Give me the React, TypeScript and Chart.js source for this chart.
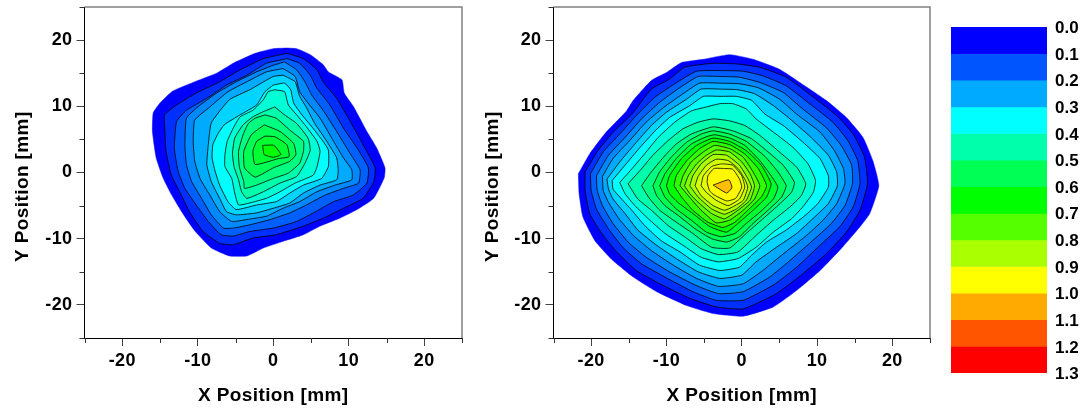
import React, { useEffect, useRef } from "react";
import { Chart, registerables } from "chart.js";

Chart.register(...registerables);

type Pt = [number, number];

const majorTicks = [-20, -10, 0, 10, 20];
const minorTicks = [-25, -15, -5, 5, 15, 25];
const scaleLevels = ["0.0", "0.1", "0.2", "0.3", "0.4", "0.5", "0.6", "0.7", "0.8", "0.9", "1.0", "1.1", "1.2", "1.3"];
const scaleColors = ["#0000ff", "#0055ff", "#00aaff", "#00ffff", "#00ffaa", "#00ff55", "#00ff00", "#55ff00", "#aaff00", "#ffff00", "#ffaa00", "#ff5500", "#ff0000"];
const bandWidths = [0.1, 0.1, 0.1, 0.1, 0.1, 0.1, 0.1, 0.1, 0.1, 0.1, 0.1, 0.1, 0.1];
const contourColors = [
  "#0000ff", "#0030ff", "#0060ff", "#0088ff", "#00aaff", "#00d4ff", "#00ffff", "#00ffd4", "#00ffaa", "#00ff80", "#00ff55",
  "#00ff30", "#00ff00", "#30ff00", "#55ff00", "#80ff00", "#aaff00", "#d4ff00", "#e6ff00", "#fff800", "#ffbe00",
];

const left00: Pt[] = [[1.8,18.8],[3.1,18.7],[4.9,17.8],[6.6,16.3],[7.3,15.2],[9.1,14],[9.4,12],[10.6,10],[12.4,6.2],[13.7,3.7],[14.8,0.7],[14.7,-0.8],[13.3,-3.9],[11.1,-5.6],[8.8,-6.9],[6.2,-8.1],[4,-9.4],[1.3,-10.4],[-1.3,-11.4],[-3.5,-12.6],[-5.8,-12.6],[-8.2,-11.4],[-10.4,-8.8],[-12.2,-5.8],[-13.5,-3.3],[-14.6,-0.8],[-15.5,2.2],[-16,6.2],[-15.9,9],[-15,10.5],[-13.3,12.3],[-10.2,13.8],[-7.5,15],[-5.3,16.5],[-2.4,18],[0,18.7]];
const left01: Pt[] = [[1.8,18],[4,17.2],[5.8,15.5],[6.6,13.7],[8.4,11.2],[10.2,7.7],[11.9,4.2],[13.5,0.7],[13.3,-1.4],[11.9,-3.9],[9.3,-5.4],[6.6,-6.9],[4,-8.1],[0.4,-9.4],[-2.7,-9.9],[-5.3,-10.9],[-7.1,-10.7],[-9.3,-8.9],[-11.1,-5.9],[-12.4,-2.9],[-13.5,-0.4],[-14.2,3.2],[-14.4,7.4],[-14.4,8.7],[-12.8,10.2],[-10.2,12],[-7.1,13.7],[-4.4,15.5],[-1.3,17.2]];
const left02: Pt[] = [[1.8,17.2],[3.5,16.5],[4.9,14.7],[5.8,12.7],[7.5,10.2],[9.3,6.7],[11.1,3.7],[12.6,0.7],[12.4,-1.6],[10.6,-3.4],[8,-4.4],[5.3,-6.1],[3.1,-7.4],[0,-8.4],[-3.1,-8.9],[-5.3,-9.6],[-6.9,-9.4],[-8.6,-7.4],[-10.2,-4.9],[-11.7,-2.4],[-12.6,0.2],[-13.1,3.7],[-12.8,7.7],[-11.5,9.4],[-8.8,11.2],[-6.2,13.2],[-3.5,14.7],[-0.9,16.5]];
const left03: Pt[] = [[1.5,16.7],[3.1,15.5],[4.2,13.7],[5.1,11.7],[6.6,9.4],[8.4,6.2],[10,3.2],[11.5,0.4],[11.3,-1.6],[9.3,-2.4],[6.9,-3.4],[4.4,-4.9],[2.2,-6.1],[-0.4,-7.1],[-3.1,-7.9],[-5.3,-8.4],[-6.6,-8.4],[-8.2,-6.4],[-9.5,-3.9],[-10.8,-1.4],[-11.5,1.2],[-11.7,4.2],[-11.5,8.2],[-10,9.9],[-7.5,12],[-4.9,13.7],[-2.2,15.2],[0,16.2]];
const left04: Pt[] = [[1.3,15.7],[2.9,14.5],[3.5,12.2],[4.6,10.5],[6.2,8.2],[8,4.7],[9.3,2.2],[10.4,0.4],[10.4,-1.1],[8.2,-1.9],[5.8,-2.9],[3.5,-4.4],[1.3,-5.4],[-0.9,-6.6],[-3.5,-7.1],[-5.5,-7.4],[-7.1,-5.9],[-8.4,-3.4],[-9.7,-0.9],[-10.4,1.7],[-10.6,4.7],[-10.4,7.9],[-8.4,9.9],[-6,12.2],[-3.5,13.7],[-0.9,15.2]];
const left05: Pt[] = [[1.3,14.7],[2.9,13.7],[3.5,11.5],[4.3,10],[5.5,7.4],[7.1,4.7],[8.4,2.2],[8.6,0.2],[8.4,-1.1],[6.2,-1.9],[4,-3.1],[2.2,-4.6],[0,-5.4],[-2.2,-6.1],[-4.9,-6.4],[-6.2,-5.9],[-7.1,-3.9],[-8.2,-1.4],[-8.8,1.2],[-8.6,4.2],[-8.2,7.5],[-5.8,11],[-3.1,12.5],[0,14.5]];
const left06: Pt[] = [[0,13.2],[1.5,13.5],[2.3,12.5],[2.7,10.5],[3.8,8.7],[4.9,7.2],[6.6,4.7],[7.3,3.4],[7.3,0.9],[6.4,-0.9],[4,-1.9],[2.2,-3.1],[0.4,-4.4],[-2.2,-4.9],[-4.9,-5.6],[-6,-4.4],[-7.1,-1.9],[-7.7,0.2],[-8.1,2.2],[-8,4.2],[-7.3,5.9],[-6.5,7.2],[-4.4,8.7],[-2.2,10.2],[-1.1,12.2]];
const left07: Pt[] = [[0.2,12.5],[1.5,12.2],[2,10.2],[3.1,8.7],[4.4,6.9],[5.8,4.7],[6.2,3.2],[5.8,0.9],[5.3,-0.4],[2.9,-1.6],[0.9,-2.9],[-0.9,-3.9],[-3.1,-4.6],[-4.6,-4.9],[-5.1,-3.1],[-5.5,-0.9],[-6.4,0.9],[-6.4,2.7],[-6.1,4.7],[-5.3,6.7],[-4.4,8.4],[-2.7,9.4],[-1.3,11],[-0.7,12.2]];
const left08: Pt[] = [[0.2,9.9],[1.5,8.7],[3.1,7.4],[4.6,5.2],[4.9,3.4],[4.2,1.4],[3.1,-0.6],[0.9,-1.6],[-1.3,-2.9],[-3.5,-3.9],[-4.2,-2.9],[-4.6,-1.1],[-5.2,0.9],[-5.4,2.9],[-5.1,5.2],[-4,7.2],[-2.7,8.4],[-1.3,9.2]];
const left09: Pt[] = [[-1.1,8.7],[0.4,8.2],[2.2,6.4],[4,4.7],[4,3.2],[3.5,1.4],[2,-0.1],[0,-0.9],[-2.2,-1.9],[-3.8,-2.4],[-3.9,-1.4],[-4.5,0.9],[-4.6,3.2],[-4,5.7],[-3.3,7.4],[-2.4,8.2]];
const left10: Pt[] = [[-1.2,7.2],[0.9,6.2],[2.7,4.4],[3,2.7],[2.2,1.7],[0,0.7],[-2.4,-0.7],[-3.8,0.7],[-3.9,3.2],[-2.9,5.7]];
const left11: Pt[] = [[-1.1,5.5],[0.2,5.4],[1.8,4.2],[2.1,2.4],[0.7,2.1],[-2.4,1.2],[-2.7,3.2],[-2.2,4.7]];
const left12: Pt[] = [[-1.4,4.1],[0.1,4.1],[1,2.7],[0,2.3],[-1.2,2.7]];

const right00: Pt[] = [[-21.7,-0.2],[-20.2,2.8],[-18,6.1],[-15.3,9.3],[-14.4,10.9],[-12,13.9],[-10,15.1],[-8,16.6],[-5.1,17.1],[-1.6,17.8],[1.5,17.1],[5,15.6],[7.7,13.6],[11.2,10.9],[13.9,8.3],[16.1,5.3],[17.4,1.8],[18.2,-2],[17,-6.2],[15.7,-8.2],[13.2,-11.5],[10.4,-14.8],[7.3,-17.8],[4.2,-20.3],[0.2,-21.7],[-3.8,-21.3],[-7.3,-20.1],[-11.3,-18],[-14.4,-15.8],[-17.1,-13.3],[-19.5,-10.3],[-21.1,-6.7],[-21.6,-3.2]];
const right01: Pt[] = [[-20.8,0.1],[-19.1,3.3],[-16.9,6.3],[-14.6,8.8],[-12,12.6],[-9.6,14.1],[-7.6,15.9],[-3.8,16.5],[-0.7,16.4],[2.4,15.9],[5.9,14.4],[9.5,11.4],[12.6,8.6],[14.8,5.8],[16.3,2.3],[16.7,-1.7],[15.7,-5.7],[13.9,-9],[11.2,-12.3],[8.1,-15.3],[4.6,-18.3],[0.2,-20.6],[-3.4,-20.3],[-6.9,-19],[-10.9,-16.8],[-14,-14.8],[-16.6,-12],[-18.6,-9.2],[-20.2,-6.2],[-20.8,-2.7]];
const right02: Pt[] = [[-20.1,-0.2],[-18.4,3.1],[-16.2,5.8],[-14,8.6],[-11.5,11.4],[-8.9,13.4],[-6,15.3],[-2.9,15.4],[0.2,15.3],[2.8,14.6],[5.9,13.1],[9,10.4],[12.1,7.6],[14.1,4.8],[15.4,1.8],[15.7,-1.7],[14.8,-5.2],[13,-8.2],[10.1,-11.3],[7.3,-14.3],[4.2,-17],[0.2,-19.3],[-3.4,-19.3],[-6.5,-18],[-10.2,-15.8],[-13.3,-13.8],[-15.8,-11.3],[-17.7,-8.5],[-19.3,-5.5],[-20,-2.7]];
const right03: Pt[] = [[-19.3,-0.5],[-17.7,2.6],[-15.5,5.3],[-13.3,8.1],[-10.9,10.6],[-8.5,12.6],[-5.8,14.5],[-2.9,14.5],[-0.3,14.4],[2.4,13.6],[5.5,12.1],[8.1,9.6],[11.2,6.8],[13.2,4.1],[14.6,1.1],[14.7,-1.7],[13.7,-5],[11.9,-7.7],[9.2,-10.5],[6.4,-13.3],[3.7,-15.8],[0.2,-18],[-3.1,-18.3],[-6.2,-17],[-9.6,-15],[-12.7,-12.8],[-15.1,-10.5],[-17.1,-7.7],[-18.5,-5],[-19.2,-2.7]];
const right04: Pt[] = [[-18.5,-0.6],[-17.1,2.1],[-14.9,4.8],[-12.7,7.6],[-10.4,9.8],[-7.8,11.9],[-5.6,13.5],[-2.9,13.5],[-0.3,13.4],[2.2,12.8],[5,11.1],[7.3,8.8],[10.4,6.1],[12.3,3.3],[13.5,0.6],[13.7,-1.7],[12.6,-4.7],[10.8,-7.2],[8.4,-9.7],[5.5,-12.3],[2.8,-14.8],[0.2,-16.8],[-3.1,-17.2],[-6,-16],[-9.1,-14],[-12,-11.8],[-14.4,-9.5],[-16.3,-7],[-17.7,-4.5],[-18.4,-2.7]];
const right05: Pt[] = [[-17.9,-1],[-16.2,1.6],[-14.2,4.3],[-12,7.1],[-10,9.1],[-7.3,11.1],[-5.4,12.6],[-2.9,12.6],[-0.5,12.5],[1.7,11.9],[4.2,10.1],[6.4,8.1],[9.2,5.3],[11.5,2.6],[12.6,0.1],[12.7,-2],[11.5,-4.7],[9.7,-6.7],[7.3,-9.2],[4.6,-11.3],[1.9,-13.5],[0,-15.5],[-2.9,-16],[-5.8,-15],[-8.7,-13],[-11.3,-11],[-13.8,-8.7],[-15.5,-6.2],[-17.1,-4],[-17.7,-2.5]];
const right06: Pt[] = [[-17.2,-1.2],[-15.5,1.1],[-13.5,3.8],[-11.5,6.3],[-9.6,8.3],[-6.9,10.1],[-5.1,11.5],[-2.9,11.5],[-0.7,11.5],[1.3,10.9],[3.1,8.8],[5.5,7.1],[8.1,4.6],[10.4,2.1],[11.5,-0.5],[11.5,-2.2],[10.1,-4.7],[8.4,-6.5],[5.9,-8.7],[3.3,-10.5],[1.3,-12.5],[-0.3,-14.3],[-2.9,-14.8],[-5.6,-14],[-8.2,-12],[-10.7,-10.3],[-12.9,-8],[-14.6,-5.7],[-16.2,-3.7],[-17.1,-2.5]];
const right07: Pt[] = [[-16.2,-1.5],[-14.4,0.8],[-12.7,3.1],[-11.1,5.3],[-8.9,7.6],[-6.7,9.3],[-4.7,9.9],[-2.9,10.4],[-1.2,10.4],[0.6,9.6],[1.9,8.1],[4.2,6.1],[6.8,3.8],[8.8,1.3],[9.8,-1.2],[9.5,-3],[8.1,-5.2],[6.6,-7],[4.2,-9],[1.9,-11.3],[-0.5,-13],[-3.1,-13.5],[-5.4,-12.8],[-7.8,-11],[-10.2,-9.2],[-12.4,-7],[-14.2,-5],[-15.5,-3.2]];
const right08: Pt[] = [[-15.1,-1.7],[-13.5,0.3],[-11.8,2.6],[-9.8,4.8],[-7.8,6.6],[-5.8,7.6],[-3.8,8.1],[-1.6,7.8],[0.4,7.1],[2.4,5.6],[4.8,3.3],[7.3,0.8],[8.5,-1.7],[7.9,-3.5],[6.4,-5.2],[4.2,-7.2],[1.9,-9.5],[-0.5,-12],[-3.1,-12.4],[-5.4,-11.5],[-7.6,-9.7],[-9.8,-8],[-12,-5.7],[-13.8,-4]];
const right09: Pt[] = [[-13.3,-2],[-12.2,-0.2],[-10.4,2.3],[-8.7,4.3],[-6.7,5.8],[-3.8,6.9],[-1.2,6.3],[1.3,5.1],[3.3,3.3],[5.5,1.1],[7,-1.5],[6.6,-3],[4.8,-5],[2.6,-7.2],[0.6,-9.2],[-1.6,-11.4],[-4,-11.3],[-6.5,-9.2],[-8.7,-7.5],[-10.9,-5.7],[-12.4,-3.7]];
const right10: Pt[] = [[-11.8,-2],[-10.9,0.1],[-9.3,2.4],[-7.3,4.6],[-5.4,5.8],[-3.8,6.3],[-1.6,5.8],[0.6,4.7],[3.1,2.4],[4.8,0.1],[5.9,-2],[5.3,-3.7],[3.5,-5.7],[1.5,-7.7],[-0.3,-9.7],[-2,-10.5],[-4,-10],[-6.2,-8.5],[-8.2,-6.7],[-10.2,-5],[-11.3,-3.5]];
const right11: Pt[] = [[-10.9,-2],[-10.2,-0.2],[-8.7,2.1],[-6.7,4.3],[-4.7,5.4],[-3.6,5.7],[-1.6,5.2],[0.4,4.1],[2.4,1.8],[3.9,-0.5],[4.8,-2.2],[4.2,-4],[2.4,-6],[0.6,-7.7],[-0.9,-9.2],[-2.7,-9.7],[-4.7,-9],[-6.7,-7.2],[-8.7,-5.5],[-10.2,-3.7]];
const right12: Pt[] = [[-10,-2],[-9.6,-0.5],[-8,2.1],[-6,4.1],[-3.8,5.2],[-1.6,4.7],[0.6,3.3],[2.6,1.1],[3.9,-1.7],[3.3,-3.7],[1.7,-5.5],[0,-7.2],[-2,-9],[-4.2,-8.2],[-6.5,-6.2],[-8.5,-4.5],[-9.6,-3.2]];
const right13: Pt[] = [[-9,-2],[-8.7,-0.5],[-7.3,1.8],[-5.6,3.6],[-3.8,4.7],[-1.6,4.2],[0.4,2.8],[2.2,0.6],[3.3,-2],[2.6,-3.7],[0.8,-5.7],[-0.9,-7.5],[-2.5,-8.3],[-4.5,-7.5],[-6.5,-5.7],[-8,-3.7]];
const right14: Pt[] = [[-8.2,-2],[-7.8,-0.5],[-6.7,1.6],[-5.1,3.1],[-3.6,4.1],[-1.6,3.6],[0.2,2.3],[1.5,0.1],[2.4,-2],[1.7,-4],[0.2,-5.7],[-1.6,-7.2],[-3.4,-7.6],[-5.4,-5.7],[-7.1,-3.5]];
const right15: Pt[] = [[-7.6,-2],[-7.1,-0.5],[-6,1.3],[-4.7,2.6],[-3.4,3.4],[-1.6,3.1],[0,1.6],[1.1,-0.2],[1.7,-2],[1.1,-4.2],[-0.5,-5.7],[-2.3,-7],[-4,-6.2],[-5.8,-4.5],[-6.9,-3.2]];
const right16: Pt[] = [[-6.9,-2],[-6.5,-0.5],[-5.4,1.3],[-3.8,2.7],[-2,2.6],[-0.3,1.1],[0.7,-0.7],[1.3,-2.2],[0.6,-4.2],[-0.7,-5.5],[-2.3,-6.3],[-4,-5.5],[-5.8,-3.7]];
const right17: Pt[] = [[-6.2,-2],[-5.8,-0.6],[-4.7,1.1],[-3.4,2],[-1.8,1.8],[-0.5,0.6],[0.4,-1],[0.8,-2.2],[0.2,-4.2],[-1.2,-5.2],[-2.3,-5.7],[-3.8,-5],[-5.4,-3.5]];
const right18: Pt[] = [[-5.4,-2],[-5.1,-0.5],[-4,0.9],[-2.7,1.3],[-1.2,1.1],[0,-0.5],[0.4,-2.2],[-0.3,-4],[-1.8,-5],[-3.4,-4.2],[-4.7,-3]];
const right19: Pt[] = [[-4.6,-1.5],[-4.5,-0.5],[-3.7,0.6],[-2.3,0.6],[-1.2,0.5],[-0.3,-1],[0,-2.2],[-0.8,-3.9],[-2,-4.3],[-3.8,-3.3],[-4.3,-2.7]];
const right20: Pt[] = [[-3.8,-1.9],[-1.7,-1.1],[-1.3,-2.3],[-2,-3.1]];

const leftContours = [left00, left01, left02, left03, left04, left05, left06, left07, left08, left09, left10, left11, left12];
const rightContours = [right00, right01, right02, right03, right04, right05, right06, right07, right08, right09, right10, right11, right12, right13, right14, right15, right16, right17, right18, right19, right20];

const FONT = "'Liberation Sans', Arial, sans-serif";
const HEIGHT = 412;

const framePlugin = {
  id: "frame",
  beforeDraw(chart: any) {
    chart.ctx.letterSpacing = "0.4px";
  },
  afterDraw(chart: any) {
    const { ctx, chartArea: a, scales } = chart;
    ctx.save();
    ctx.strokeStyle = "#808080";
    ctx.lineWidth = 1.5;
    ctx.beginPath();
    ctx.moveTo(a.left, a.top);
    ctx.lineTo(a.right, a.top);
    ctx.lineTo(a.right, a.bottom);
    ctx.stroke();
    ctx.strokeStyle = "#333";
    ctx.lineWidth = 1;
    ctx.beginPath();
    for (const v of minorTicks) {
      const px = Math.round(scales.x.getPixelForValue(v)) + 0.5;
      ctx.moveTo(px, a.bottom);
      ctx.lineTo(px, a.bottom + 5);
      const py = Math.round(scales.y.getPixelForValue(v)) + 0.5;
      ctx.moveTo(a.left, py);
      ctx.lineTo(a.left - 5, py);
    }
    ctx.stroke();
    ctx.restore();
  },
};

function contourConfig(contours: Pt[][], rightGap: number, leftW: number): any {
  const tickFont = { family: FONT, size: 18, weight: "bold" as const };
  const titleFont = { family: FONT, size: 19, weight: "bold" as const };
  const axis = (title: string, titlePadding: any) => ({
    type: "linear",
    min: -25,
    max: 25,
    afterBuildTicks: (s: any) => {
      s.ticks = majorTicks.map((value) => ({ value }));
    },
    border: { display: true, color: "#000", width: 1 },
    grid: { drawOnChartArea: false, drawTicks: true, tickLength: 8, tickColor: "#444", tickWidth: 1 },
    ticks: { color: "#000", font: tickFont, padding: 4, maxRotation: 0, autoSkip: false, callback: (v: any) => String(v) },
    title: { display: true, text: title, color: "#000", font: titleFont, padding: titlePadding },
  });
  return {
    type: "scatter",
    data: {
      datasets: contours.map((pts, k) => ({
        label: `level ${k}`,
        data: [...pts, pts[0]],
        showLine: true,
        fill: "shape",
        tension: 0.15,
        order: -k,
        pointRadius: 0,
        backgroundColor: contourColors[k],
        borderColor: k === 0 ? contourColors[0] : "rgba(0,0,0,0.8)",
        borderWidth: k === 0 ? 0.5 : 1,
      })),
    },
    options: {
      responsive: false,
      animation: false,
      layout: { padding: { left: 0, top: 7, right: rightGap, bottom: 0 } },
      plugins: { legend: { display: false }, tooltip: { enabled: false } },
      scales: {
        x: { ...axis("X Position [mm]", { top: 0, bottom: 5 }), afterFit: (s: any) => { s.height = HEIGHT - 338; s.paddingLeft = 0; s.paddingRight = 0; } },
        y: { ...axis("Y Position [mm]     ", { top: 11, bottom: 0 }), afterFit: (s: any) => { s.width = leftW; s.paddingTop = 0; s.paddingBottom = 0; } },
      },
    },
    plugins: [framePlugin],
  };
}

function barConfig(): any {
  return {
    type: "bar",
    data: {
      labels: ["scale"],
      datasets: bandWidths.map((w, i) => ({
        label: scaleLevels[i],
        data: [w],
        backgroundColor: scaleColors[i],
        borderWidth: 0,
        barPercentage: 1,
        categoryPercentage: 1,
      })),
    },
    options: {
      responsive: false,
      animation: false,
      layout: { padding: { left: 11, top: 27, right: 0, bottom: 39 } },
      plugins: { legend: { display: false }, tooltip: { enabled: false } },
      scales: {
        x: { stacked: true, display: false },
        y: {
          stacked: true,
          position: "right",
          reverse: true,
          min: 0,
          max: 1.3,
          afterBuildTicks: (s: any) => {
            s.ticks = scaleLevels.map((l) => ({ value: Number(l) }));
          },
          border: { display: false },
          grid: { display: false, drawTicks: false },
          ticks: { color: "#000", font: { family: FONT, size: 17, weight: "bold" }, padding: 8, labelOffset: 1.5, autoSkip: false, callback: (v: any) => Number(v).toFixed(1) },
          afterFit: (s: any) => { s.width = 39; s.paddingTop = 0; s.paddingBottom = 0; },
        },
      },
    },
  };
}

function Panel({ make, left, width }: { make: () => any; left: number; width: number }) {
  const ref = useRef<HTMLCanvasElement>(null);
  useEffect(() => {
    const chart = new Chart(ref.current as HTMLCanvasElement, make());
    return () => chart.destroy();
  }, []);
  return <canvas ref={ref} width={width} height={HEIGHT} style={{ position: "absolute", left, top: 0, width, height: HEIGHT }} />;
}

export default function App() {
  return (
    <div style={{ position: "absolute", left: 0, top: 0, width: 1086, height: HEIGHT, background: "#fff", overflow: "hidden" }}>
      <Panel make={() => contourConfig(leftContours, 8, 84.5)} left={0} width={470} />
      <Panel make={() => contourConfig(rightContours, 10, 83.5)} left={470} width={470} />
      <Panel make={barConfig} left={940} width={146} />
    </div>
  );
}
